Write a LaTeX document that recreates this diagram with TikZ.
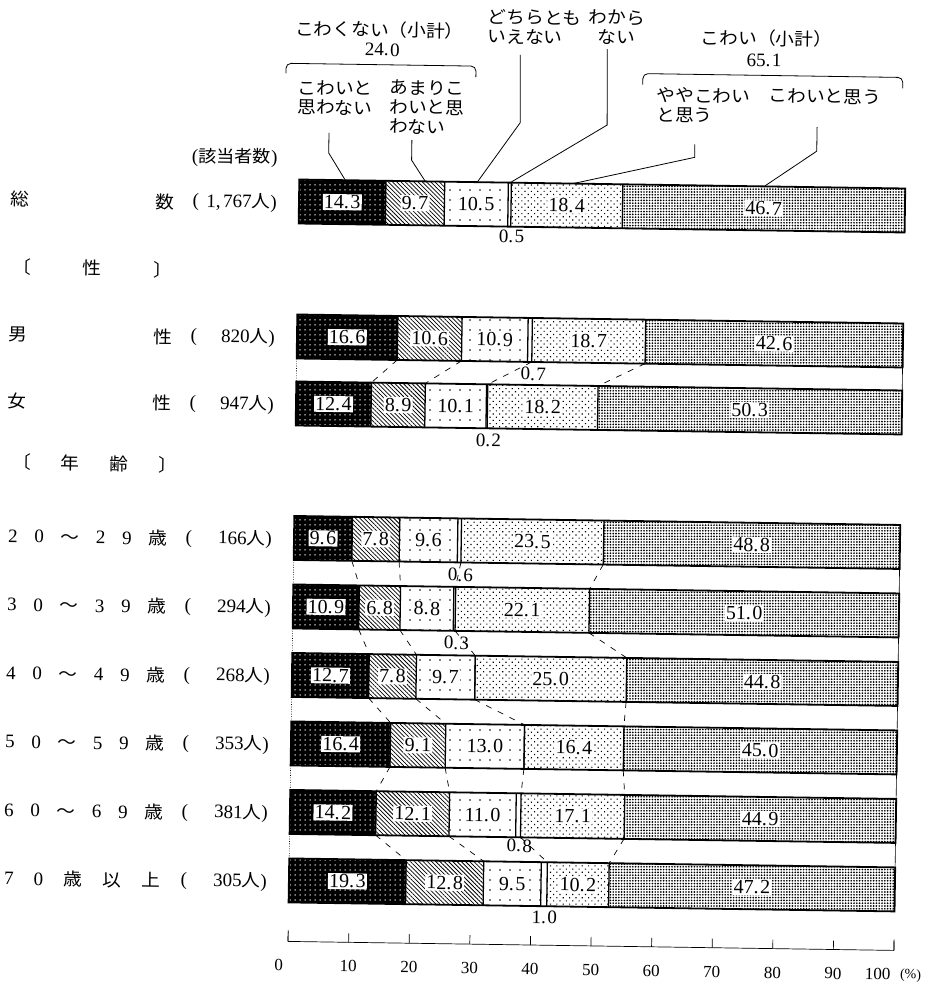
\documentclass[tikz,border=0pt]{standalone}
\usepackage{fontspec}
\setmainfont{Liberation Serif}
\newfontfamily\jp{Noto Sans CJK JP}[FakeStretch=1.07]
\usetikzlibrary{patterns.meta}
\newcommand\numfont{\rmfamily\fontsize{20}{20}\selectfont}
\newcommand\smallnum{\rmfamily\fontsize{19}{19}\selectfont}
\newcommand\axfont{\rmfamily\fontsize{17}{17}\selectfont}
\newcommand\jpfont{\jp\fontsize{17.5}{19.5}\selectfont}
\newcommand\jpsmall{\jp\fontsize{17}{17}\selectfont}
\def\dnum#1{\dnumaux#1\relax}
\def\dnumaux#1.#2\relax{#1.\kern1.5pt#2}
\newcommand\nd[1]{{\smallnum #1}}
\tikzset{
  barframe/.style={line width=1.8pt},
  sepline/.style={line width=1.3pt},
  seglab/.style={fill=white, inner sep=1.2pt, font=\numfont},
  outlab/.style={inner sep=0.5pt, font=\smallnum},
  numlab/.style={inner sep=0pt, font=\smallnum},
  conn/.style={dash pattern=on 6pt off 7pt, line width=0.7pt},
  leftdot/.style={dash pattern=on 0.8pt off 1.6pt, line width=0.6pt},
  rightline/.style={line width=0.6pt},
  leader/.style={line width=0.8pt},
  brack/.style={line width=0.8pt, rounded corners=5pt},
  jlab/.style={font=\jpfont, inner sep=0pt},
  seg1/.style={pattern={Dots[distance=5pt,radius=0.75pt]}, pattern color=white},
  seg2/.style={pattern={Lines[angle=-45,distance=3pt,line width=0.75pt]}},
  seg3/.style={pattern={Dots[distance=10pt,radius=0.85pt]}},
  seg5/.style={pattern={Dots[distance=4.5pt,radius=0.8pt,angle=45]}},
  seg6/.style={pattern={Dots[distance=2.8pt,radius=0.95pt]}},
}
% #1 name, #2 centre y, #3..#8 the six shares
\newcommand\barrow[8]{%
  \pgfmathsetmacro\ya{#2-22}%
  \pgfmathsetmacro\yb{#2+22}%
  \pgfmathsetmacro\xA{294+6.06*#3}%
  \pgfmathsetmacro\xB{\xA+6.06*#4}%
  \pgfmathsetmacro\xC{\xB+6.06*#5}%
  \pgfmathsetmacro\xD{\xC+6.06*#6}%
  \pgfmathsetmacro\xE{\xD+6.06*#7}%
  \fill[black] (294,\ya) rectangle (\xA,\yb);
  \fill[seg1] (294,\ya) rectangle (\xA,\yb);
  \fill[seg2] (\xA,\ya) rectangle (\xB,\yb);
  \fill[seg3] (\xB,\ya) rectangle (\xC,\yb);
  \fill[seg5] (\xD,\ya) rectangle (\xE,\yb);
  \fill[seg6] (\xE,\ya) rectangle (900,\yb);
  \foreach \xx in {\xA,\xB,\xC,\xD,\xE} {\draw[sepline] (\xx,\ya) -- (\xx,\yb);}
  \draw[barframe] (294,\ya) rectangle (900,\yb);
  \node[seglab] (#1-l1) at ({(294+\xA)/2},#2) {\dnum{#3}};
  \node[seglab] (#1-l2) at ({(\xA+\xB)/2},#2) {\dnum{#4}};
  \node[seglab] (#1-l3) at ({(\xB+\xC)/2},#2) {\dnum{#5}};
  \node[seglab] (#1-l5) at ({(\xD+\xE)/2},#2) {\dnum{#7}};
  \node[seglab] (#1-l6) at ({(\xE+900)/2},#2) {\dnum{#8}};
  \coordinate (#1-b1-t) at (\xA,\ya); \coordinate (#1-b1-b) at (\xA,\yb);
  \coordinate (#1-b2-t) at (\xB,\ya); \coordinate (#1-b2-b) at (\xB,\yb);
  \coordinate (#1-b4-t) at (\xD,\ya); \coordinate (#1-b4-b) at (\xD,\yb);
  \coordinate (#1-b5-t) at (\xE,\ya); \coordinate (#1-b5-b) at (\xE,\yb);
  \coordinate (#1-L-t) at (294,\ya); \coordinate (#1-L-b) at (294,\yb);
  \coordinate (#1-R-t) at (900,\ya); \coordinate (#1-R-b) at (900,\yb);
}
\newcommand\connect[2]{%
  \foreach \bb in {b1,b2,b4,b5} {\draw[conn] (#1-\bb-b) -- (#2-\bb-t);}
  \draw[leftdot] (#1-L-b) -- (#2-L-t);
  \draw[rightline] (#1-R-b) -- (#2-R-t);
}
\begin{document}
\begin{tikzpicture}[x=1pt,y=-1pt]
\useasboundingbox (0,0) rectangle (944,990);
\fill[white] (0,0) rectangle (944,990);
\begin{scope}[rotate around={-0.85:(600,540)}, transform shape]
% ---- bars
\barrow{tot}{206}{14.3}{9.7}{10.5}{0.5}{18.4}{46.7}
\barrow{m}{341}{16.6}{10.6}{10.9}{0.7}{18.7}{42.6}
\barrow{f}{408}{12.4}{8.9}{10.1}{0.2}{18.2}{50.3}
\barrow{a2}{542.5}{9.6}{7.8}{9.6}{0.6}{23.5}{48.8}
\barrow{a3}{611}{10.9}{6.8}{8.8}{0.3}{22.1}{51.0}
\barrow{a4}{679.5}{12.7}{7.8}{9.7}{0}{25.0}{44.8}
\barrow{a5}{748}{16.4}{9.1}{13.0}{0}{16.4}{45.0}
\barrow{a6}{816.5}{14.2}{12.1}{11.0}{0.8}{17.1}{44.9}
\barrow{a7}{885}{19.3}{12.8}{9.5}{1.0}{10.2}{47.2}
% ---- small shares written outside the bars
\node[outlab] (tot-l4) at (507,238) {\dnum{0.5}};
\node[outlab] (m-l4) at (531,375) {\dnum{0.7}};
\node[outlab] (f-l4) at (487,442) {\dnum{0.2}};
\node[outlab] (a2-l4) at (461,577) {\dnum{0.6}};
\node[outlab] (a3-l4) at (458,645) {\dnum{0.3}};
\node[outlab] (a6-l4) at (524,847) {\dnum{0.8}};
\node[outlab] (a7-l4) at (550,918) {\dnum{1.0}};
% ---- connectors between bars
\connect{m}{f}
\connect{a2}{a3}
\connect{a3}{a4}
\connect{a4}{a5}
\connect{a5}{a6}
\connect{a6}{a7}
% ---- legend texts on top
\node[jlab] (subA) at (372,33) {こわくない（小計）};
\node[numlab] (subAv) at (375,53) {\dnum{24.0}};
\draw[brack] (279,78) -- (279,68) -- (469,68) -- (469,79);
\node[jlab, align=left, anchor=west] (k1) at (291,102) {こわいと\\思わない};
\node[jlab, align=left, anchor=west] (k2) at (383,110) {あまりこ\\わいと思\\わない};
\node[jlab, align=left, anchor=west] (k3) at (480,28) {どちらとも\\いえない};
\node[jlab, align=center] (k4) at (609,27) {わから\\ない};
\node[jlab] (subB) at (759,36) {こわい（小計）};
\node[numlab] (subBv) at (757,58) {\dnum{65.1}};
\draw[brack] (636,84) -- (636,73) -- (896,73) -- (896,84);
\node[jlab, align=left, anchor=west] (k5) at (650,104) {ややこわい\\と思う};
\node[jlab, anchor=west] (k6) at (762,93) {こわいと思う};
% ---- leader lines
\coordinate (p1a) at (323,137); \coordinate (p1b) at (323,157); \coordinate (p1c) at (340,184);
\coordinate (p2a) at (406,143); \coordinate (p2b) at (406,163); \coordinate (p2c) at (420,184);
\coordinate (p3a) at (513,56);  \coordinate (p3b) at (514,124); \coordinate (p3c) at (472,184);
\coordinate (p4a) at (600,49);  \coordinate (p4b) at (601,125); \coordinate (p4c) at (505,184);
\coordinate (p5a) at (689,143); \coordinate (p5b) at (689,156); \coordinate (p5c) at (568,184);
\coordinate (p6a) at (811,124); \coordinate (p6b) at (811,148); \coordinate (p6c) at (759,184);
\draw[leader] (p1a) -- (p1b) -- (p1c);
\draw[leader] (p2a) -- (p2b) -- (p2c);
\draw[leader] (p3a) -- (p3b) -- (p3c);
\draw[leader] (p4a) -- (p4b) -- (p4c);
\draw[leader] (p5a) -- (p5b) -- (p5c);
\draw[leader] (p6a) -- (p6b) -- (p6c);
% ---- row labels
\node[anchor=east, inner sep=0pt] (hdr) at (272,163) {{\smallnum(}{\jpsmall 該当者数}{\smallnum)}};
\node[jlab, anchor=west] (n-tot) at (5,208) {\makebox[164pt][s]{総\hfill 数}};
\node[jlab, anchor=west] (n-sex) at (8,276) {\makebox[160pt][s]{〔\hfill 性\hfill 〕}};
\node[jlab, anchor=west] (n-m) at (5,343) {\makebox[164pt][s]{男\hfill 性}};
\node[jlab, anchor=west] (n-f) at (5,410) {\makebox[164pt][s]{女\hfill 性}};
\node[jlab, anchor=west] (n-age) at (11,471) {\makebox[165pt][s]{〔\hfill 年\hfill 齢\hfill 〕}};
\node[jlab, anchor=west] (n-a2) at (8,544.5) {\makebox[159pt][s]{\nd{2}\hfill\nd{0}\hfill ～\hfill\nd{2}\hfill\nd{9}\hfill 歳}};
\node[jlab, anchor=west] (n-a3) at (8,613) {\makebox[159pt][s]{\nd{3}\hfill\nd{0}\hfill ～\hfill\nd{3}\hfill\nd{9}\hfill 歳}};
\node[jlab, anchor=west] (n-a4) at (8,681.5) {\makebox[159pt][s]{\nd{4}\hfill\nd{0}\hfill ～\hfill\nd{4}\hfill\nd{9}\hfill 歳}};
\node[jlab, anchor=west] (n-a5) at (8,750) {\makebox[159pt][s]{\nd{5}\hfill\nd{0}\hfill ～\hfill\nd{5}\hfill\nd{9}\hfill 歳}};
\node[jlab, anchor=west] (n-a6) at (8,818.5) {\makebox[159pt][s]{\nd{6}\hfill\nd{0}\hfill ～\hfill\nd{6}\hfill\nd{9}\hfill 歳}};
\node[jlab, anchor=west] (n-a7) at (9,887) {\makebox[156pt][s]{\nd{7}\hfill\nd{0}\hfill 歳\hfill 以\hfill 上}};
\node[jlab, anchor=east] (c-tot) at (272,208) {\makebox[84pt][s]{\nd{(}\hfill\nd{1,\kern2.5pt767}人\nd{)}}};
\node[jlab, anchor=east] (c-m) at (272,343) {\makebox[84pt][s]{\nd{(}\hfill\nd{820}人\nd{)}}};
\node[jlab, anchor=east] (c-f) at (272,410) {\makebox[84pt][s]{\nd{(}\hfill\nd{947}人\nd{)}}};
\node[jlab, anchor=east] (c-a2) at (272,544.5) {\makebox[86pt][s]{\nd{(}\hfill\nd{166}人\nd{)}}};
\node[jlab, anchor=east] (c-a3) at (272,613) {\makebox[86pt][s]{\nd{(}\hfill\nd{294}人\nd{)}}};
\node[jlab, anchor=east] (c-a4) at (272,681.5) {\makebox[86pt][s]{\nd{(}\hfill\nd{268}人\nd{)}}};
\node[jlab, anchor=east] (c-a5) at (272,750) {\makebox[86pt][s]{\nd{(}\hfill\nd{353}人\nd{)}}};
\node[jlab, anchor=east] (c-a6) at (272,818.5) {\makebox[86pt][s]{\nd{(}\hfill\nd{381}人\nd{)}}};
\node[jlab, anchor=east] (c-a7) at (272,887) {\makebox[86pt][s]{\nd{(}\hfill\nd{305}人\nd{)}}};
% ---- axis
\draw[line width=0.7pt] (294,946) -- (900,946);
\foreach \k in {0,...,10} {\draw[line width=0.7pt] ({294+60.6*\k},946) -- ++(0,-9);}
\draw[line width=0.7pt] (294,946) -- ++(0,-11);
\draw[line width=0.7pt] (900,946) -- ++(0,-11);
\node[inner sep=0pt, font=\axfont] (ax0) at (285,970) {0};
\foreach \k in {1,...,9} {\node[inner sep=0pt, font=\axfont] (ax\k) at ({294+60.6*\k},970) {\the\numexpr\k*10\relax};}
\node[inner sep=0pt, font=\axfont] (ax10) at (884,970) {100};
\node[inner sep=0pt, font=\rmfamily\fontsize{14}{14}\selectfont] (axpct) at (917,971) {(\%)};
\end{scope}
\end{tikzpicture}
\end{document}
